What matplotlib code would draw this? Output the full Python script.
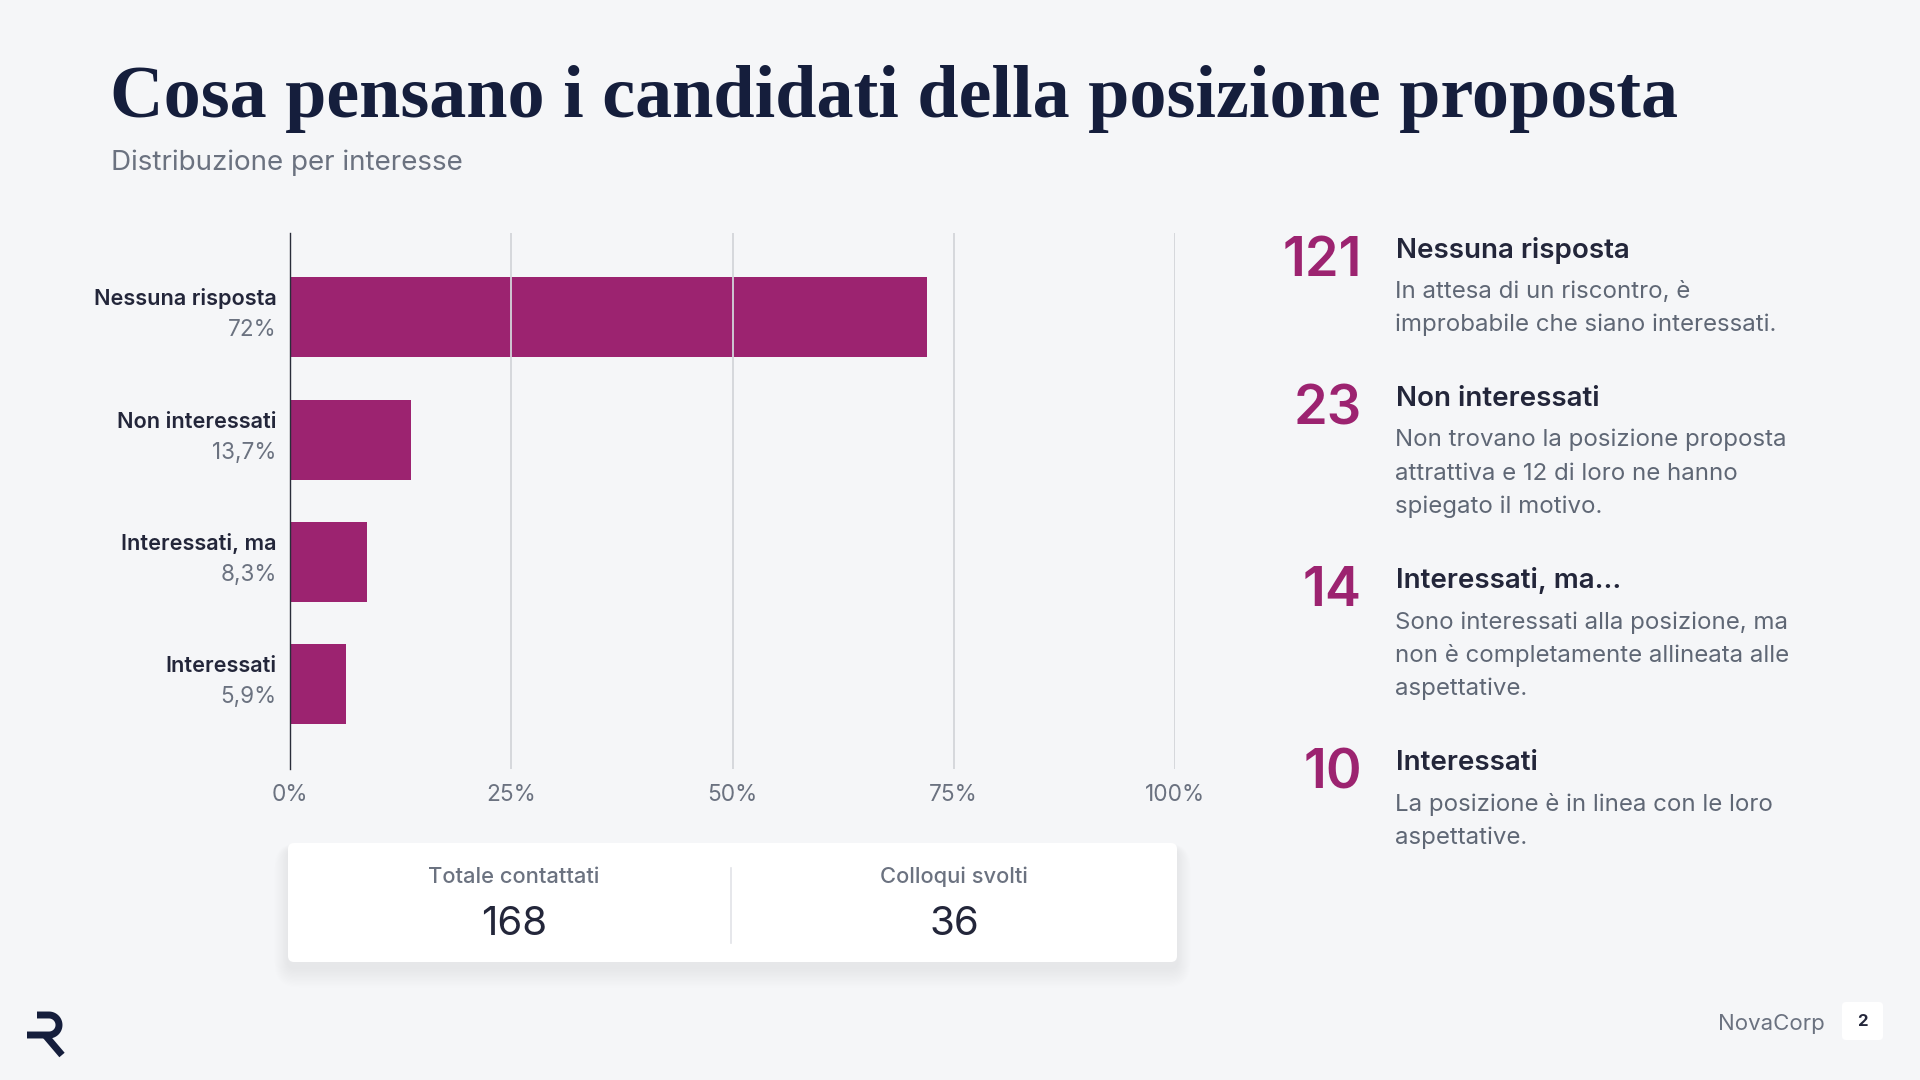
import numpy as np
import matplotlib.pyplot as plt
from matplotlib.patches import FancyBboxPatch
from matplotlib.lines import Line2D

# ---- data ----
categories = ["Nessuna risposta", "Non interessati", "Interessati, ma", "Interessati"]
bar_lengths = [72.0, 13.7, 8.7, 6.3]  # as drawn
percent_labels = ["72%", "13,7%", "8,3%", "5,9%"]
counts = ["121", "23", "14", "10"]
headings = ["Nessuna risposta", "Non interessati", "Interessati, ma...", "Interessati"]
descriptions = [
    ["In attesa di un riscontro, è", "improbabile che siano interessati."],
    ["Non trovano la posizione proposta", "attrattiva e 12 di loro ne hanno", "spiegato il motivo."],
    ["Sono interessati alla posizione, ma", "non è completamente allineata alle", "aspettative."],
    ["La posizione è in linea con le loro", "aspettative."],
]
xticks = [0, 25, 50, 75, 100]
xtick_labels = ["0%", "25%", "50%", "75%", "100%"]
stat_labels = ["Totale contattati", "Colloqui svolti"]
stat_values = ["168", "36"]

title = "Cosa pensano i candidati della posizione proposta"
subtitle = "Distribuzione per interesse"

BG = "#f5f6f8"
NAVY = "#151e3c"
DARK = "#23263a"
GRAY = "#6b7280"
DESC = "#5f6775"
MAGENTA = "#9c2370"
GRID = "#d3d5da"
SANS = ["Inter", "DejaVu Sans"]

W, H = 1920, 1080


def fx(x):
    return x / W


def fy(y):
    return 1 - y / H


fig = plt.figure(figsize=(19.2, 10.8), dpi=100, facecolor=BG)

# title, fitted to the slide width
t = fig.text(fx(110), fy(117), title, family=["Liberation Serif", "DejaVu Serif"],
             weight="bold", fontsize=49, color=NAVY, va="baseline")
fig.canvas.draw()
w = t.get_window_extent(fig.canvas.get_renderer()).width
t.set_fontsize(49 * 1568 / w)

fig.text(fx(111), fy(170), subtitle, family=SANS, fontsize=20, color=GRAY, va="baseline")

# ---- bar chart ----
ax = fig.add_axes([fx(290), fy(769), (1175 - 290) / W, (769 - 233) / H])
ax.set_facecolor("none")
y = np.arange(len(categories))
ax.barh(y, bar_lengths, height=0.653, color=MAGENTA, zorder=1)
ax.set_xlim(0, 100)
ax.set_ylim(3.69, -0.686)
ax.set_axisbelow(False)
ax.xaxis.grid(True, color=GRID, lw=1.3)
ax.set_xticks(xticks)
ax.set_xticklabels(xtick_labels, family=SANS, fontsize=16.3, color=GRAY)
ax.tick_params(axis="x", length=0, pad=11)
ax.set_yticks([])
for s in ["top", "right", "bottom"]:
    ax.spines[s].set_visible(False)
ax.spines["left"].set_color("#2a2d3a")
ax.spines["left"].set_linewidth(1.0)
ax.spines["left"].set_zorder(4)

for i, (name, lab) in enumerate(zip(categories, percent_labels)):
    ax.annotate(name, xy=(0, i), xycoords=("axes fraction", "data"), xytext=(-13.5, 12),
                textcoords="offset pixels", ha="right", va="baseline",
                family=SANS, fontsize=15.6, weight="semibold", color=DARK)
    ax.annotate(lab, xy=(0, i), xycoords=("axes fraction", "data"), xytext=(-13.5, -19),
                textcoords="offset pixels", ha="right", va="baseline",
                family=SANS, fontsize=16.2, color=GRAY)

# ---- stats card ----
def inch_box(x0, y0, x1, y1, **kw):
    return FancyBboxPatch((x0 / 100, (H - y1) / 100), (x1 - x0) / 100, (y1 - y0) / 100,
                          transform=fig.dpi_scale_trans, **kw)


for k in range(1, 16):
    fig.add_artist(inch_box(288 - k * 0.9, 843 - k * 0.4 + 6, 1177 + k * 0.9, 962 + k * 1.3 + 6,
                            boxstyle="round,pad=0,rounding_size=%.3f" % (0.06 + k * 0.012),
                            facecolor="#1f2937", edgecolor="none", alpha=0.0055))
fig.add_artist(inch_box(288, 843, 1177, 962, boxstyle="round,pad=0,rounding_size=0.06",
                        facecolor="white", edgecolor="none"))
fig.add_artist(Line2D([fx(731), fx(731)], [fy(868), fy(943)], transform=fig.transFigure,
                      color="#e1e3e8", lw=1.2))
for cx, lab, val in zip([514, 954], stat_labels, stat_values):
    fig.text(fx(cx), fy(883), lab, family=SANS, fontsize=15.8, weight="medium", color=GRAY,
             ha="center", va="baseline")
    fig.text(fx(cx), fy(935), val, family=SANS, fontsize=29, color=DARK,
             ha="center", va="baseline")

# ---- right panel ----
hy = 258
for num, head, lines in zip(counts, headings, descriptions):
    fig.text(fx(1362), fy(hy + 18), num, family=SANS, fontsize=39, weight="semibold",
             color=MAGENTA, ha="right", va="baseline")
    fig.text(fx(1396), fy(hy), head, family=SANS, fontsize=20, weight="semibold",
             color=DARK, va="baseline")
    for j, line in enumerate(lines):
        fig.text(fx(1395), fy(hy + 40 + 33.5 * j), line, family=SANS, fontsize=17.3,
                 color=DESC, va="baseline")
    hy += 39 + 33.5 * (len(lines) - 1) + 76

# ---- footer ----
fig.text(fx(1825), fy(1030), "NovaCorp", family=SANS, fontsize=16, color=GRAY,
         ha="right", va="baseline")
fig.add_artist(inch_box(1842, 1002, 1883, 1040, boxstyle="round,pad=0,rounding_size=0.04",
                        facecolor="white", edgecolor="none"))
fig.text(fx(1862.5), fy(1026), "2", family=SANS, fontsize=12, weight="bold", color=DARK,
         ha="center", va="baseline")

# logo mark
ang = np.linspace(np.pi / 2, -np.pi / 2, 30)
lx = np.concatenate([[37], 49 + 10 * np.cos(ang), [27]])
ly = np.concatenate([[1015], 1025 - 10 * np.sin(ang), [1035]])
fig.add_artist(Line2D(fx(lx), fy(ly), transform=fig.transFigure, color=NAVY, lw=5,
                      solid_capstyle="butt", solid_joinstyle="round"))
fig.add_artist(Line2D([fx(45), fx(62)], [fy(1035), fy(1055)], transform=fig.transFigure,
                      color=NAVY, lw=5, solid_capstyle="butt"))

fig.savefig("out.png", dpi=100, facecolor=BG)
